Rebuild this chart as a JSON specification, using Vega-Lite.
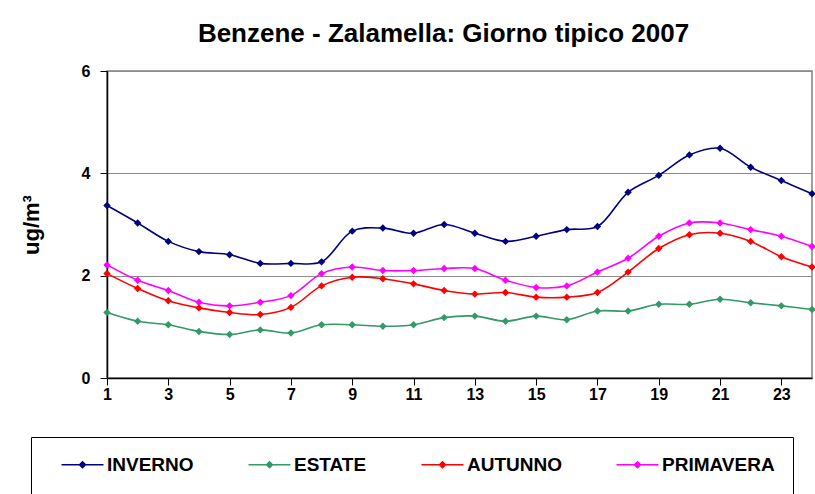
{
  "$schema": "https://vega.github.io/schema/vega-lite/v6.json",
  "autosize": "none",
  "width": 705,
  "height": 307,
  "padding": {"left": 107, "top": 71, "right": 3, "bottom": 116},
  "background": "white",
  "title": {
    "text": "Benzene - Zalamella: Giorno tipico 2007",
    "font": "Liberation Sans",
    "fontSize": 26,
    "fontWeight": "bold",
    "color": "black",
    "anchor": "middle",
    "baseline": "alphabetic",
    "offset": -5,
    "dx": -16
  },
  "config": {
    "view": {"stroke": "#808080", "strokeWidth": 1.5},
    "font": "Liberation Sans"
  },
  "data": {
    "values": [
      {"ora": 1, "stagione": "INVERNO", "valore": 3.37},
      {"ora": 2, "stagione": "INVERNO", "valore": 3.03},
      {"ora": 3, "stagione": "INVERNO", "valore": 2.67},
      {"ora": 4, "stagione": "INVERNO", "valore": 2.47},
      {"ora": 5, "stagione": "INVERNO", "valore": 2.41},
      {"ora": 6, "stagione": "INVERNO", "valore": 2.24},
      {"ora": 7, "stagione": "INVERNO", "valore": 2.24},
      {"ora": 8, "stagione": "INVERNO", "valore": 2.27},
      {"ora": 9, "stagione": "INVERNO", "valore": 2.87},
      {"ora": 10, "stagione": "INVERNO", "valore": 2.93},
      {"ora": 11, "stagione": "INVERNO", "valore": 2.83},
      {"ora": 12, "stagione": "INVERNO", "valore": 3.0},
      {"ora": 13, "stagione": "INVERNO", "valore": 2.83},
      {"ora": 14, "stagione": "INVERNO", "valore": 2.67},
      {"ora": 15, "stagione": "INVERNO", "valore": 2.77},
      {"ora": 16, "stagione": "INVERNO", "valore": 2.9},
      {"ora": 17, "stagione": "INVERNO", "valore": 2.96},
      {"ora": 18, "stagione": "INVERNO", "valore": 3.63},
      {"ora": 19, "stagione": "INVERNO", "valore": 3.96},
      {"ora": 20, "stagione": "INVERNO", "valore": 4.36},
      {"ora": 21, "stagione": "INVERNO", "valore": 4.49},
      {"ora": 22, "stagione": "INVERNO", "valore": 4.12},
      {"ora": 23, "stagione": "INVERNO", "valore": 3.86},
      {"ora": 24, "stagione": "INVERNO", "valore": 3.6},
      {"ora": 1, "stagione": "ESTATE", "valore": 1.28},
      {"ora": 2, "stagione": "ESTATE", "valore": 1.11},
      {"ora": 3, "stagione": "ESTATE", "valore": 1.04},
      {"ora": 4, "stagione": "ESTATE", "valore": 0.91},
      {"ora": 5, "stagione": "ESTATE", "valore": 0.85},
      {"ora": 6, "stagione": "ESTATE", "valore": 0.94},
      {"ora": 7, "stagione": "ESTATE", "valore": 0.88},
      {"ora": 8, "stagione": "ESTATE", "valore": 1.04},
      {"ora": 9, "stagione": "ESTATE", "valore": 1.04},
      {"ora": 10, "stagione": "ESTATE", "valore": 1.01},
      {"ora": 11, "stagione": "ESTATE", "valore": 1.04},
      {"ora": 12, "stagione": "ESTATE", "valore": 1.18},
      {"ora": 13, "stagione": "ESTATE", "valore": 1.21},
      {"ora": 14, "stagione": "ESTATE", "valore": 1.11},
      {"ora": 15, "stagione": "ESTATE", "valore": 1.21},
      {"ora": 16, "stagione": "ESTATE", "valore": 1.14},
      {"ora": 17, "stagione": "ESTATE", "valore": 1.31},
      {"ora": 18, "stagione": "ESTATE", "valore": 1.31},
      {"ora": 19, "stagione": "ESTATE", "valore": 1.44},
      {"ora": 20, "stagione": "ESTATE", "valore": 1.44},
      {"ora": 21, "stagione": "ESTATE", "valore": 1.54},
      {"ora": 22, "stagione": "ESTATE", "valore": 1.47},
      {"ora": 23, "stagione": "ESTATE", "valore": 1.41},
      {"ora": 24, "stagione": "ESTATE", "valore": 1.34},
      {"ora": 1, "stagione": "AUTUNNO", "valore": 2.04},
      {"ora": 2, "stagione": "AUTUNNO", "valore": 1.75},
      {"ora": 3, "stagione": "AUTUNNO", "valore": 1.51},
      {"ora": 4, "stagione": "AUTUNNO", "valore": 1.37},
      {"ora": 5, "stagione": "AUTUNNO", "valore": 1.28},
      {"ora": 6, "stagione": "AUTUNNO", "valore": 1.24},
      {"ora": 7, "stagione": "AUTUNNO", "valore": 1.38},
      {"ora": 8, "stagione": "AUTUNNO", "valore": 1.8},
      {"ora": 9, "stagione": "AUTUNNO", "valore": 1.97},
      {"ora": 10, "stagione": "AUTUNNO", "valore": 1.94},
      {"ora": 11, "stagione": "AUTUNNO", "valore": 1.84},
      {"ora": 12, "stagione": "AUTUNNO", "valore": 1.71},
      {"ora": 13, "stagione": "AUTUNNO", "valore": 1.64},
      {"ora": 14, "stagione": "AUTUNNO", "valore": 1.67},
      {"ora": 15, "stagione": "AUTUNNO", "valore": 1.58},
      {"ora": 16, "stagione": "AUTUNNO", "valore": 1.58},
      {"ora": 17, "stagione": "AUTUNNO", "valore": 1.67},
      {"ora": 18, "stagione": "AUTUNNO", "valore": 2.07},
      {"ora": 19, "stagione": "AUTUNNO", "valore": 2.53},
      {"ora": 20, "stagione": "AUTUNNO", "valore": 2.8},
      {"ora": 21, "stagione": "AUTUNNO", "valore": 2.83},
      {"ora": 22, "stagione": "AUTUNNO", "valore": 2.67},
      {"ora": 23, "stagione": "AUTUNNO", "valore": 2.37},
      {"ora": 24, "stagione": "AUTUNNO", "valore": 2.17},
      {"ora": 1, "stagione": "PRIMAVERA", "valore": 2.21},
      {"ora": 2, "stagione": "PRIMAVERA", "valore": 1.91},
      {"ora": 3, "stagione": "PRIMAVERA", "valore": 1.71},
      {"ora": 4, "stagione": "PRIMAVERA", "valore": 1.48},
      {"ora": 5, "stagione": "PRIMAVERA", "valore": 1.41},
      {"ora": 6, "stagione": "PRIMAVERA", "valore": 1.48},
      {"ora": 7, "stagione": "PRIMAVERA", "valore": 1.61},
      {"ora": 8, "stagione": "PRIMAVERA", "valore": 2.04},
      {"ora": 9, "stagione": "PRIMAVERA", "valore": 2.17},
      {"ora": 10, "stagione": "PRIMAVERA", "valore": 2.1},
      {"ora": 11, "stagione": "PRIMAVERA", "valore": 2.1},
      {"ora": 12, "stagione": "PRIMAVERA", "valore": 2.14},
      {"ora": 13, "stagione": "PRIMAVERA", "valore": 2.14},
      {"ora": 14, "stagione": "PRIMAVERA", "valore": 1.91},
      {"ora": 15, "stagione": "PRIMAVERA", "valore": 1.77},
      {"ora": 16, "stagione": "PRIMAVERA", "valore": 1.8},
      {"ora": 17, "stagione": "PRIMAVERA", "valore": 2.07},
      {"ora": 18, "stagione": "PRIMAVERA", "valore": 2.34},
      {"ora": 19, "stagione": "PRIMAVERA", "valore": 2.77},
      {"ora": 20, "stagione": "PRIMAVERA", "valore": 3.03},
      {"ora": 21, "stagione": "PRIMAVERA", "valore": 3.03},
      {"ora": 22, "stagione": "PRIMAVERA", "valore": 2.9},
      {"ora": 23, "stagione": "PRIMAVERA", "valore": 2.77},
      {"ora": 24, "stagione": "PRIMAVERA", "valore": 2.57}
    ]
  },
  "mark": {
    "type": "line",
    "interpolate": "catmull-rom",
    "strokeWidth": 1.6,
    "point": {"shape": "diamond", "filled": true, "size": 55}
  },
  "encoding": {
    "x": {
      "field": "ora",
      "type": "quantitative",
      "scale": {"domain": [1, 24], "nice": false, "zero": false},
      "axis": {
        "title": null,
        "values": [1, 3, 5, 7, 9, 11, 13, 15, 17, 19, 21, 23],
        "grid": false,
        "domainColor": "black",
        "domainWidth": 1.5,
        "tickColor": "black",
        "tickSize": 7,
        "labelFont": "Liberation Sans",
        "labelFontSize": 16,
        "labelFontWeight": "bold",
        "labelColor": "black",
        "labelPadding": 1,
        "labelFlush": false
      }
    },
    "y": {
      "field": "valore",
      "type": "quantitative",
      "scale": {"domain": [0, 6], "nice": false},
      "axis": {
        "title": "ug/m³",
        "values": [0, 2, 4, 6],
        "grid": true,
        "gridColor": "#8c8c8c",
        "gridWidth": 1,
        "domainColor": "black",
        "domainWidth": 1.5,
        "tickColor": "black",
        "tickSize": 7,
        "labelFont": "Liberation Sans",
        "labelFontSize": 16,
        "labelFontWeight": "bold",
        "labelColor": "black",
        "labelPadding": 10,
        "titleFont": "Liberation Sans",
        "titleFontSize": 22,
        "titleFontWeight": "bold",
        "titleColor": "black",
        "titleAngle": 270,
        "titleBaseline": "middle",
        "titleX": -76,
        "titleY": 153.5
      }
    },
    "color": {
      "field": "stagione",
      "type": "nominal",
      "scale": {
        "domain": ["INVERNO", "ESTATE", "AUTUNNO", "PRIMAVERA"],
        "range": ["#000080", "#339966", "#FF0000", "#FF00FF"]
      },
      "legend": {
        "orient": "none",
        "legendX": -76,
        "legendY": 366,
        "direction": "horizontal",
        "title": " ",
        "titleOrient": "bottom",
        "titleFontSize": 20,
        "titlePadding": 10,
        "symbolType": "M-3,0L3,0M0,-0.43L0.43,0L0,0.43L-0.43,0Z",
        "symbolSize": 196,
        "symbolOffset": 24,
        "symbolStrokeWidth": 1.5,
        "labelFont": "Liberation Sans",
        "labelFontWeight": "bold",
        "labelFontSize": 19,
        "labelColor": "black",
        "labelOffset": 15,
        "labelLimit": 300,
        "columnPadding": 42,
        "padding": 18,
        "strokeColor": "black",
        "fillColor": "white",
        "encode": {
          "symbols": {
            "update": {
              "fill": {"scale": "color", "field": "value"},
              "stroke": {"scale": "color", "field": "value"},
              "opacity": {"value": 1}
            }
          }
        }
      }
    }
  }
}
